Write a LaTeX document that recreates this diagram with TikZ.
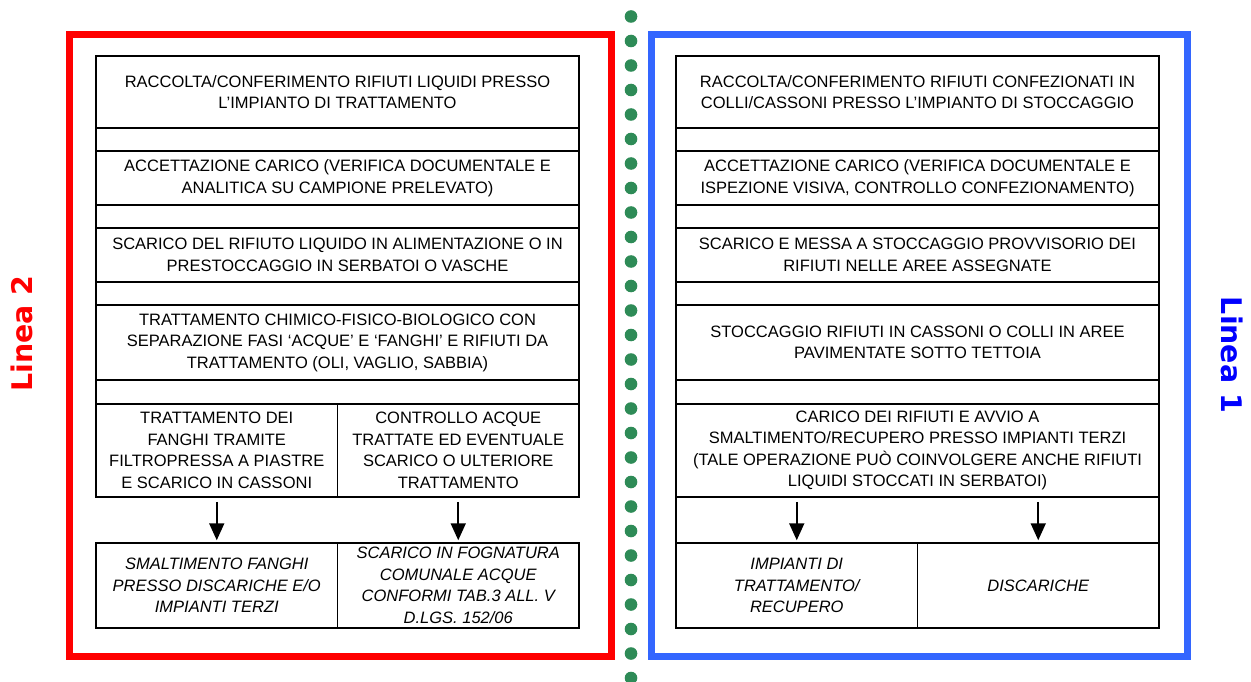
\documentclass[tikz,border=0pt]{standalone}
\usepackage{fontspec}
\setmainfont{Liberation Sans}
\newfontfamily\labelfont{DejaVu Sans}
\usetikzlibrary{arrows.meta}
\definecolor{framered}{RGB}{255,0,0}
\definecolor{frameblue}{RGB}{51,102,255}
\definecolor{labelblue}{RGB}{0,0,255}
\definecolor{dotgreen}{RGB}{46,139,87}
\newcommand{\bodyfont}{\fontsize{16.5}{21.5}\selectfont}
\begin{document}
\begin{tikzpicture}[x=1pt,y=-1pt,
    box/.style = { draw,line width=1.5pt,align=center,inner sep=0pt,minimum width=483pt,font=\bodyfont },
    half/.style = { box,minimum width=241.5pt },
    outcome/.style = { half,minimum height=85pt,font=\bodyfont\itshape },
    frame/.style = { line width=7.5pt },
    arrowstyle/.style = { -{Triangle[width=15pt,length=17pt]},line width=1.8pt }
    ]
    \useasboundingbox (0,0) rectangle (1251,682);
    % Frames
    \draw[frame,framered]  (69.5,34.5)  rectangle (611.5,656.5);
    \draw[frame,frameblue] (651.5,34.5) rectangle (1187.5,656.5);
    \foreach \i in {0,...,27}
        \fill[dotgreen] (631,{16.5+24.5*\i}) circle (6.3pt);
    % Labels
    \node(T2) at (22,333.5)   [rotate=90,text=framered,font=\labelfont\bfseries\fontsize{28.4}{30}\selectfont]  {Linea 2};
    \node(T1) at (1232,355)   [rotate=-90,text=labelblue,font=\labelfont\bfseries\fontsize{28.4}{30}\selectfont] {Linea 1};
    % Nodes: Linea 2
    \node(LA)  at (337.5,92)    [box,minimum height=72pt] {RACCOLTA/CONFERIMENTO RIFIUTI LIQUIDI PRESSO\\L'IMPIANTO DI TRATTAMENTO};
    \node(LAg) at (337.5,139.5) [box,minimum height=23pt] {};
    \node(LB)  at (337.5,178)   [box,minimum height=54pt] {ACCETTAZIONE CARICO (VERIFICA DOCUMENTALE E\\ANALITICA SU CAMPIONE PRELEVATO)};
    \node(LBg) at (337.5,216.5) [box,minimum height=23pt] {};
    \node(LC)  at (337.5,255)   [box,minimum height=54pt] {SCARICO DEL RIFIUTO LIQUIDO IN ALIMENTAZIONE O IN\\PRESTOCCAGGIO IN SERBATOI O VASCHE};
    \node(LCg) at (337.5,293.5) [box,minimum height=23pt] {};
    \node(LD)  at (337.5,342.5) [box,minimum height=75pt] {TRATTAMENTO CHIMICO-FISICO-BIOLOGICO CON\\SEPARAZIONE FASI `ACQUE' E `FANGHI' E RIFIUTI DA\\TRATTAMENTO (OLI, VAGLIO, SABBIA)};
    \node(LDg) at (337.5,392)   [box,minimum height=24pt] {};
    \node(LE1) at (216.75,450.5) [half,minimum height=93pt] {TRATTAMENTO DEI\\FANGHI TRAMITE\\FILTROPRESSA A PIASTRE\\E SCARICO IN CASSONI};
    \node(LE2) at (458.25,450.5) [half,minimum height=93pt] {CONTROLLO ACQUE\\TRATTATE ED EVENTUALE\\SCARICO O ULTERIORE\\TRATTAMENTO};
    \node(LF1) at (216.75,585.5) [outcome] {SMALTIMENTO FANGHI\\PRESSO DISCARICHE E/O\\IMPIANTI TERZI};
    \node(LF2) at (458.25,585.5) [outcome] {SCARICO IN FOGNATURA\\COMUNALE ACQUE\\CONFORMI TAB.3 ALL. V\\D.LGS. 152/06};
    % Nodes: Linea 1
    \node(RA)  at (917.5,92)    [box,minimum height=72pt] {RACCOLTA/CONFERIMENTO RIFIUTI CONFEZIONATI IN\\COLLI/CASSONI PRESSO L'IMPIANTO DI STOCCAGGIO};
    \node(RAg) at (917.5,139.5) [box,minimum height=23pt] {};
    \node(RB)  at (917.5,178)   [box,minimum height=54pt] {ACCETTAZIONE CARICO (VERIFICA DOCUMENTALE E\\ISPEZIONE VISIVA, CONTROLLO CONFEZIONAMENTO)};
    \node(RBg) at (917.5,216.5) [box,minimum height=23pt] {};
    \node(RC)  at (917.5,255)   [box,minimum height=54pt] {SCARICO E MESSA A STOCCAGGIO PROVVISORIO DEI\\RIFIUTI NELLE AREE ASSEGNATE};
    \node(RCg) at (917.5,293.5) [box,minimum height=23pt] {};
    \node(RD)  at (917.5,342.5) [box,minimum height=75pt] {STOCCAGGIO RIFIUTI IN CASSONI O COLLI IN AREE\\PAVIMENTATE SOTTO TETTOIA};
    \node(RDg) at (917.5,392)   [box,minimum height=24pt] {};
    \node(RE)  at (917.5,450.5) [box,minimum height=93pt] {CARICO DEI RIFIUTI E AVVIO A\\SMALTIMENTO/RECUPERO PRESSO IMPIANTI TERZI\\(TALE OPERAZIONE PUÒ COINVOLGERE ANCHE RIFIUTI\\LIQUIDI STOCCATI IN SERBATOI)};
    \node(REg) at (917.5,520)   [box,minimum height=46pt] {};
    \node(RG1) at (796.75,585.5) [outcome] {IMPIANTI DI\\TRATTAMENTO/\\RECUPERO};
    \node(RG2) at (1038.25,585.5) [outcome] {DISCARICHE};
    % Arrows
    \draw[arrowstyle] (LE1.south) ++(0,4) -- ([yshift=2pt]LF1.north);
    \draw[arrowstyle] (LE2.south) ++(0,4) -- ([yshift=2pt]LF2.north);
    \draw[arrowstyle] (RE.south -| RG1.north) ++(0,4) -- ([yshift=2pt]RG1.north);
    \draw[arrowstyle] (RE.south -| RG2.north) ++(0,4) -- ([yshift=2pt]RG2.north);
\end{tikzpicture}
\end{document}
